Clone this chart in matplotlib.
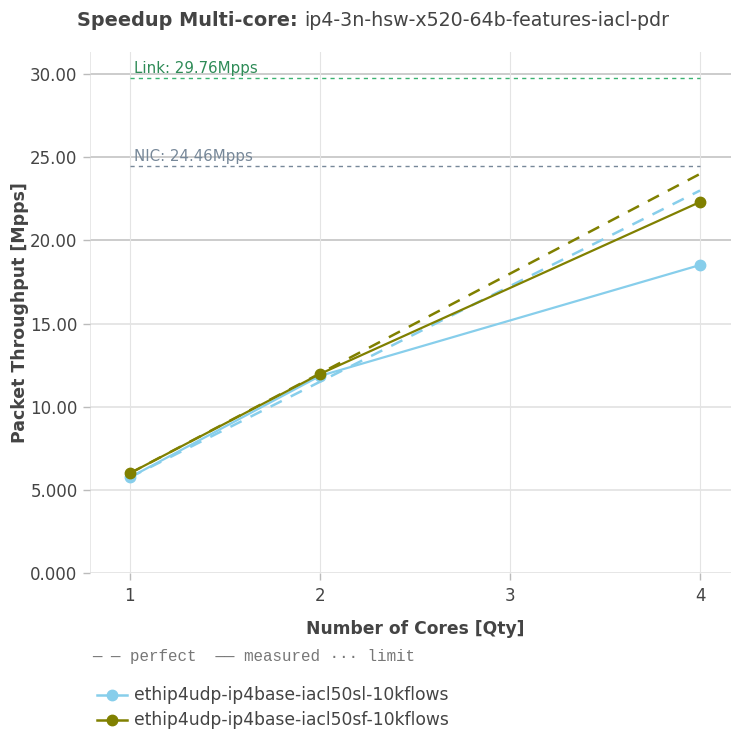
import matplotlib
matplotlib.use("Agg")
import matplotlib.pyplot as plt

# data
cores = [1, 2, 4]
tests = ["ethip4udp-ip4base-iacl50sl-10kflows", "ethip4udp-ip4base-iacl50sf-10kflows"]
measured_sl = [5.75, 11.85, 18.52]
measured_sf = [6.0, 11.97, 22.31]
perfect_sl = [5.75, 11.5, 23.0]
perfect_sf = [6.0, 12.0, 24.0]
colors = ["#87ceeb", "#808000"]
link_limit = 29.76
nic_limit = 24.46
y_ticks = [0, 5, 10, 15, 20, 25, 30]
y_labels = ["0.000", "5.000", "10.00", "15.00", "20.00", "25.00", "30.00"]

W, H = 731, 736
fig = plt.figure(figsize=(W / 100, H / 100), dpi=100)
ax = fig.add_axes([90 / W, 1 - 573 / H, (W - 90) / W, (573 - 52) / H])

ax.set_xlim(0.79, 4.163)
ax.set_ylim(0, 31.33)

# grid
for y in y_ticks:
    c = "#c4c4c4" if y >= 20 else "#e2e2e2"
    ax.axhline(y, color=c, lw=1.2, zorder=0)
for x in [1, 2, 3, 4]:
    ax.axvline(x, color="#e4e4e4", lw=0.8, zorder=0)
ax.axvline(0.79, color="#e4e4e4", lw=1.2, zorder=0)

# limits
ax.plot([1, 4], [link_limit] * 2, color="#3cb371", lw=1.0, ls=(0, (3, 3)), zorder=2)
ax.plot([1, 4], [nic_limit] * 2, color="#778899", lw=1.0, ls=(0, (3, 3)), zorder=2)
ax.text(1.02, link_limit + 0.6, "Link: 29.76Mpps", color="#2e8b57", fontsize=10.8,
        ha="left", va="center")
ax.text(1.02, nic_limit + 0.6, "NIC: 24.46Mpps", color="#778899", fontsize=10.8,
        ha="left", va="center")

# perfect
ax.plot(cores, perfect_sl, color=colors[0], lw=1.8, ls=(0, (5, 4)), zorder=3)
ax.plot(cores, perfect_sf, color=colors[1], lw=1.8, ls=(0, (5, 4)), zorder=3)

# measured
ax.plot(cores, measured_sl, color=colors[0], lw=1.6, marker="o", ms=7.5, zorder=4)
ax.plot(cores, measured_sf, color=colors[1], lw=1.6, marker="o", ms=7.5, zorder=5)

for s in ax.spines.values():
    s.set_visible(False)

ax.set_xticks([1, 2, 3, 4])
ax.set_xticklabels(["1", "2", "3", "4"])
ax.set_yticks(y_ticks)
ax.set_yticklabels(y_labels)
ax.tick_params(axis="both", colors="#bbbbbb", labelcolor="#444444", labelsize=12,
               length=5, width=1)
ax.tick_params(axis="x", pad=5)
ax.tick_params(axis="y", pad=4)

fig.text(415 / W, 1 - 629 / H, "Number of Cores [Qty]", fontsize=12.3, fontweight="bold",
         color="#444444", ha="center", va="center")
fig.text(20 / W, 1 - 313 / H, "Packet Throughput [Mpps]", fontsize=12.5, fontweight="bold",
         color="#444444", ha="center", va="center", rotation=90)

# title
t1 = fig.text(77 / W, 1 - 20 / H, "Speedup Multi-core: ", fontsize=13.9, fontweight="bold",
              color="#444444", ha="left", va="center")
fig.canvas.draw()
bb = t1.get_window_extent()
fig.text(bb.x1 / W, 1 - 20 / H, "ip4-3n-hsw-x520-64b-features-iacl-pdr", fontsize=13.7,
         color="#444444", ha="left", va="center")

# line-style legend
fig.text(92 / W, 1 - 657 / H, "\u2014 \u2014 perfect  \u2014\u2014 measured \u00b7\u00b7\u00b7 limit",
         family="Liberation Mono", fontsize=11.4, color="#777777", ha="left", va="center")

# series legend
for i, (name, c) in enumerate(zip(tests, colors)):
    yy = 1 - (695 + 25 * i) / H
    fig.lines.append(plt.Line2D([97 / W, 127 / W], [yy, yy], color=c, lw=1.8,
                                transform=fig.transFigure))
    fig.lines.append(plt.Line2D([112 / W], [yy], color=c, marker="o", ms=7.5,
                                transform=fig.transFigure))
    fig.text(134 / W, yy, name, fontsize=12.3, color="#444444", ha="left", va="center")

fig.savefig("out.png", dpi=100)
